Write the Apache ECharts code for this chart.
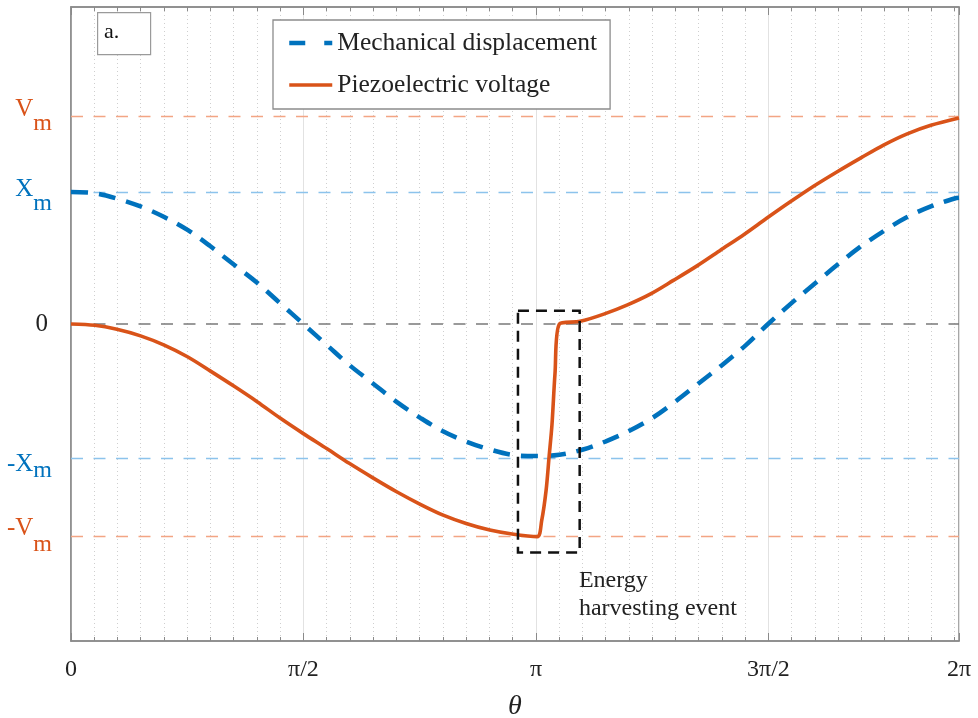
<!DOCTYPE html>
<html><head><meta charset="utf-8">
<script src="https://cdn.jsdelivr.net/npm/echarts@6/dist/echarts.min.js"></script>
<style>html,body{margin:0;padding:0;background:#fff}#c{width:978px;height:718px}</style>
</head><body><div id="c"></div>
<script>
// ---- data ----
const seriesNames = ['Mechanical displacement', 'Piezoelectric voltage'];

const dispTheta = [0,0.16,0.31,0.47,0.63,0.79,0.94,1.10,1.26,1.41,1.57,1.73,1.88,2.04,2.20,2.36,2.51,2.67,2.83,2.98,3.14,3.30,3.46,3.61,3.77,3.93,4.08,4.24,4.40,4.56,4.71,4.87,5.03,5.18,5.34,5.50,5.65,5.81,5.97,6.00];
const dispValue = [1.00,0.99,0.95,0.89,0.81,0.71,0.59,0.45,0.31,0.16,0.00,-0.16,-0.31,-0.45,-0.59,-0.71,-0.81,-0.89,-0.95,-0.99,-1.00,-0.99,-0.95,-0.89,-0.81,-0.71,-0.59,-0.45,-0.31,-0.16,0.00,0.16,0.31,0.45,0.59,0.71,0.81,0.89,0.95,0.955];

const voltTheta = [0,0.16,0.31,0.47,0.63,0.79,0.94,1.10,1.26,1.41,1.57,1.73,1.88,2.04,2.20,2.36,2.51,2.67,2.83,2.98,3.15,3.18,3.21,3.23,3.25,3.27,3.30,3.44,3.60,3.76,3.92,4.07,4.23,4.39,4.55,4.70,4.86,5.02,5.18,5.34,5.49,5.65,5.81,6.00];
const voltValue = [0,-0.01,-0.04,-0.09,-0.16,-0.25,-0.355,-0.47,-0.59,-0.71,-0.83,-0.945,-1.055,-1.165,-1.27,-1.365,-1.445,-1.51,-1.56,-1.59,-1.61,-1.49,-1.26,-1.01,-0.76,-0.38,0.00,0.02,0.075,0.145,0.23,0.33,0.44,0.56,0.68,0.80,0.925,1.045,1.155,1.26,1.355,1.44,1.505,1.56];

const xLabelValues = [0, Math.PI/2, Math.PI, 3*Math.PI/2, 6];
const xLabelTexts = ['0', 'π/2', 'π', '3π/2', '2π'];

const yLevelValues = [1.57, 1.0, 0, -1.02, -1.61];
const yLevelMain = ['V', 'X', '0', '-X', '-V'];
const yLevelSub = ['m', 'm', '', 'm', 'm'];

const eventBox = [[3.02, 0.10], [3.437, -1.73]];
const eventText = 'Energy\nharvesting event';
const panelText = 'a.';

// ---- styling ----
const SERIF = "'Liberation Serif','Times New Roman',serif";
const BLUE = '#0072BD', ORANGE = '#D95319';
const levelColor = [ORANGE, BLUE, '#222', BLUE, ORANGE];
const refColor = ['#F3A584', '#8CC3EC', '#7a7a7a', '#8CC3EC', '#F3A584'];
const mainShift = [-9.5, -5, 0, 2, -10.5];   // label text vertical offsets (px)
const subShift = [6.5, 11, 0, 11, 7.5];
const AX = '#8a8a8a';

const rich = {};
yLevelMain.forEach((m, i) => {
  const ms = mainShift[i];
  rich['m' + i] = ms < 0
    ? {fontFamily: SERIF, fontSize: 25, color: levelColor[i], lineHeight: 24, verticalAlign: 'bottom', padding: [0, 0, Math.max(0, -ms - 3), 0]}
    : {fontFamily: SERIF, fontSize: 25, color: levelColor[i], lineHeight: 24, verticalAlign: 'top', padding: [ms + 3, 0, 0, 0]};
  rich['s' + i] = {fontFamily: SERIF, fontSize: 24, color: levelColor[i], lineHeight: 24, verticalAlign: 'top', padding: [subShift[i] + 1, 0, 0, 0]};
});
rich.z = {fontFamily: SERIF, fontSize: 25, color: '#222', padding: [0, 4, 0, 0]};

const chart = echarts.init(document.getElementById('c'), null, {renderer: 'canvas'});

const xBase = {type: 'value', min: 0, max: 6, gridIndex: 0};
chart.setOption({
  backgroundColor: '#fff',
  animation: false,
  grid: {left: 71, right: 19, top: 7, bottom: 77, containLabel: false, outerBoundsMode: 'none',
         show: true, borderColor: AX, borderWidth: 1.5, backgroundColor: 'transparent'},
  legend: {
    data: [
      {name: seriesNames[0], itemStyle: {opacity: 0}, lineStyle: {color: BLUE, width: 4.5, type: [16, 19]}},
      {name: seriesNames[1], itemStyle: {opacity: 0}, lineStyle: {color: ORANGE, width: 3.6, type: 'solid'}}
    ],
    orient: 'vertical', left: 273, top: 20,
    itemWidth: 43, itemHeight: 14, itemGap: 16,
    padding: [10, 13, 11, 14],
    borderColor: '#8c8c8c', borderWidth: 1.3, backgroundColor: '#fff',
    textStyle: {fontFamily: SERIF, fontSize: 25.5, color: '#222', lineHeight: 26},
    selectedMode: false
  },
  xAxis: [
    Object.assign({}, xBase, {
      position: 'bottom', interval: Math.PI/20,
      axisLine: {show: true, onZero: false, lineStyle: {color: AX, width: 1.5}},
      axisTick: {show: true, inside: true, length: 4, lineStyle: {color: AX}},
      splitLine: {show: true, lineStyle: {color: '#cfcfcf', type: [1, 3], width: 1}},
      axisLabel: {
        show: true, customValues: xLabelValues, margin: 17,
        fontFamily: SERIF, fontSize: 24, color: '#222',
        formatter: v => { const i = xLabelValues.findIndex(x => Math.abs(x - v) < 1e-6); return i >= 0 ? xLabelTexts[i] : ''; }
      },
      name: 'θ', nameLocation: 'middle', nameGap: 52,
      nameTextStyle: {fontFamily: SERIF, fontSize: 28, fontStyle: 'italic', color: '#222'}
    }),
    Object.assign({}, xBase, {
      position: 'bottom', interval: Math.PI/2,
      axisLine: {show: false, onZero: false},
      axisTick: {show: true, inside: true, length: 8, lineStyle: {color: AX}},
      splitLine: {show: true, lineStyle: {color: '#e2e2e2', width: 1}},
      axisLabel: {show: false}
    }),
    Object.assign({}, xBase, {
      position: 'top', interval: Math.PI/20,
      axisLine: {show: true, onZero: false, lineStyle: {color: AX, width: 1.5}},
      axisTick: {show: true, inside: true, length: 4, lineStyle: {color: AX}},
      splitLine: {show: false}, axisLabel: {show: false}
    }),
    Object.assign({}, xBase, {
      position: 'top', interval: Math.PI/2,
      axisLine: {show: false, onZero: false},
      axisTick: {show: true, inside: true, length: 8, lineStyle: {color: AX}},
      splitLine: {show: false}, axisLabel: {show: false}
    })
  ],
  yAxis: [{
    type: 'value', min: -2.4, max: 2.4,
    axisLine: {show: true, onZero: false, lineStyle: {color: AX, width: 1.5}},
    axisTick: {show: false},
    splitLine: {show: false},
    axisLabel: {
      show: true, customValues: yLevelValues, margin: 19, rich: rich,
      formatter: v => {
        const i = yLevelValues.findIndex(y => Math.abs(y - v) < 1e-6);
        if (i < 0) return '';
        if (!yLevelSub[i]) return '{z|' + yLevelMain[i] + '}';
        return '{m' + i + '|' + yLevelMain[i] + '}{s' + i + '|' + yLevelSub[i] + '}';
      }
    }
  }],
  graphic: [
    {type: 'rect', left: 97, top: 12, shape: {width: 53, height: 42}, style: {fill: '#fff', stroke: '#9a9a9a', lineWidth: 1.2}, z: 10},
    {type: 'text', left: 104, top: 21, style: {text: panelText, font: '22px ' + SERIF, fill: '#111'}, z: 11}
  ],
  series: [
    {
      name: seriesNames[0], type: 'line', xAxisIndex: 0, yAxisIndex: 0,
      data: dispTheta.map((t, i) => [t, dispValue[i]]),
      symbol: 'none', showSymbol: false, smooth: 0.35,
      lineStyle: {color: BLUE, width: 4.5, type: [17, 11], cap: 'butt'},
      itemStyle: {color: BLUE},
      markLine: {
        silent: true, z: 1, symbol: ['none', 'none'], label: {show: false}, animation: false,
        data: yLevelValues.map((v, i) => ({yAxis: v, lineStyle: {color: refColor[i], type: [12, 10.5], width: i === 2 ? 1.5 : 1.3}}))
      }
    },
    {
      name: seriesNames[1], type: 'line', xAxisIndex: 0, yAxisIndex: 0,
      data: voltTheta.map((t, i) => [t, voltValue[i]]),
      symbol: 'none', showSymbol: false, smooth: 0.3,
      lineStyle: {color: ORANGE, width: 3.6, join: 'round'},
      itemStyle: {color: ORANGE},
      markArea: {
        silent: true, z: 6,
        itemStyle: {color: 'rgba(0,0,0,0)', borderColor: '#111', borderWidth: 2.5, borderType: [11, 7]},
        label: {
          show: true, position: ['100%', '100%'], align: 'left', verticalAlign: 'top', offset: [-2, 13],
          fontFamily: SERIF, fontSize: 24, lineHeight: 28, color: '#222', formatter: eventText
        },
        data: [[{xAxis: eventBox[0][0], yAxis: eventBox[0][1]}, {xAxis: eventBox[1][0], yAxis: eventBox[1][1]}]]
      }
    }
  ]
});
</script>
</body></html>
